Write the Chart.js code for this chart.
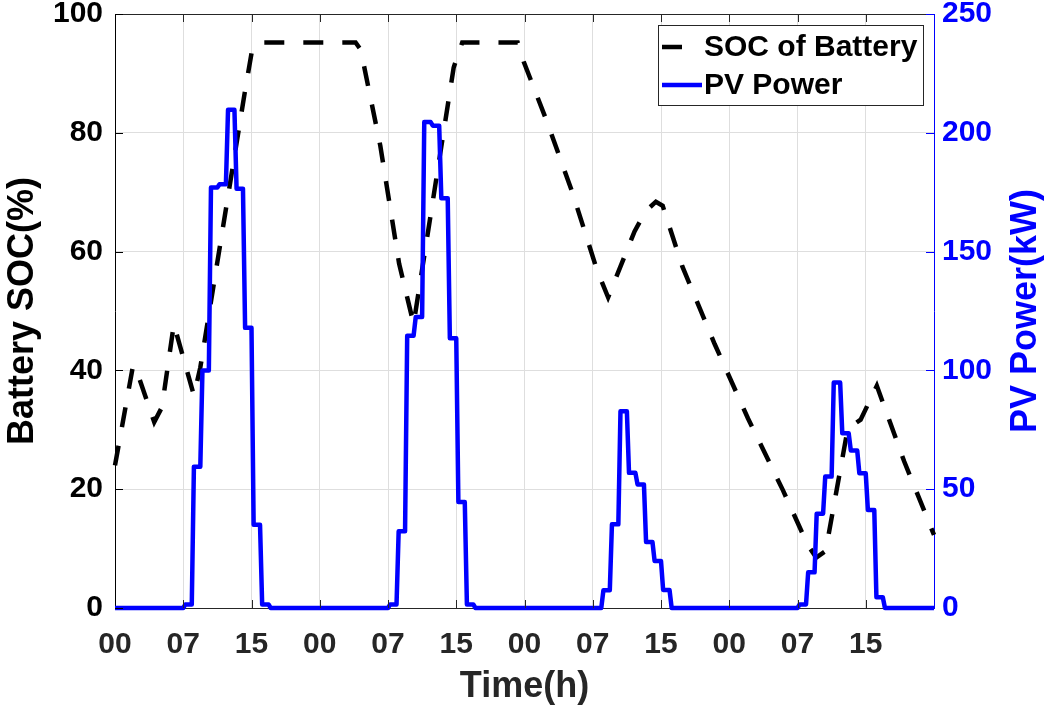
<!DOCTYPE html>
<html>
<head>
<meta charset="utf-8">
<title>Battery SOC and PV power</title>
<script src="https://cdn.jsdelivr.net/npm/chart.js@4.4.1/dist/chart.umd.min.js"></script>
<style>
  html, body { margin: 0; padding: 0; background: #fff; }
  #wrap { width: 1051px; height: 710px; position: relative; }
</style>
</head>
<body>
<div id="wrap"><canvas id="chart"></canvas></div>
<script>
// PV output in kW, one value per hour (hour 0 .. 95)
const pvPower = [
  0, 0, 0, 0, 0, 0, 0, 0, 1.5, 59.5, 100, 177, 178.3, 209.7, 176.5, 117.9,
  35, 1.5, 0, 0, 0, 0, 0, 0, 0, 0, 0, 0, 0, 0, 0, 0,
  1.5, 32.3, 114.6, 122.5, 204.5, 203, 172.5, 113.5, 44.6, 1.5, 0, 0, 0, 0, 0, 0,
  0, 0, 0, 0, 0, 0, 0, 0, 0, 7.5, 35.2, 82.8, 56.9, 52, 27.8, 19.8,
  7.6, 0, 0, 0, 0, 0, 0, 0, 0, 0, 0, 0, 0, 0, 0, 0,
  1.5, 15, 39.7, 55.3, 94.9, 73.5, 66.3, 56.7, 41.2, 4.5, 0, 0, 0, 0, 0, 0
];

// battery SOC (%) at the corners of the curve
const socHours = [
  0, 2.1, 2.4, 4.6, 5.5, 6.9, 9.25, 10, 15.2, 16.1, 17,
  28.2, 28.8, 31.1, 33.3, 34.3, 35, 39.7, 40.7,
  47.2, 47.9, 50.6, 53.6, 56.5, 57.8, 60.9, 62.2, 63.4, 64.2,
  66.5, 70.3, 74.2, 78.3, 81.2, 82.2, 83.3, 85.8, 86.3, 87.4, 89.3, 92.5, 96
];
const socValues = [
  24, 40.7, 40.5, 31.3, 33.8, 47.8, 35.8, 40.5, 86.7, 94.2, 95.2,
  95.2, 94, 77.8, 58, 52, 47.8, 91, 95.2,
  95.2, 92, 82, 70, 56.9, 52.3, 63.4, 66.8, 68.4, 67.7,
  57.5, 44.4, 31.9, 19.8, 10.6, 8.5, 9.6, 29.5, 30.6, 31.7, 37.4, 24.7, 12.3
];

const xTickLabels = ['00', '07', '15', '00', '07', '15', '00', '07', '15', '00', '07', '15'];
const legendLabels = ['SOC of Battery', 'PV Power'];

const pvPoints = [{x: 0, y: pvPower[0]}];
pvPower.forEach((v, h) => {
  pvPoints.push({x: h + 0.25, y: v});
  pvPoints.push({x: h + 1, y: v});
});
const socPoints = socHours.map((h, i) => ({x: h, y: socValues[i]}));

const FONT = 'Liberation Sans, Arial, Helvetica, sans-serif';
const DARK = '#262626';
const BLUE = '#0000ff';
const GRID = '#dedede';
const LINE_W = 4.5;

// top border, inward tick marks, boxed legend and the right-hand title
const framePlugin = {
  id: 'frame',
  afterDraw(chart) {
    const {ctx, chartArea: a, scales} = chart;
    const tick = 8;
    ctx.save();
    ctx.lineWidth = 1;

    ctx.strokeStyle = DARK;
    ctx.beginPath();
    ctx.moveTo(a.left, a.top + 0.5);
    ctx.lineTo(a.right, a.top + 0.5);
    scales.x.ticks.forEach(t => {
      if (t.value <= 0 || t.value >= 96) return;
      const px = Math.round(scales.x.getPixelForValue(t.value)) + 0.5;
      ctx.moveTo(px, a.bottom);
      ctx.lineTo(px, a.bottom - tick);
      ctx.moveTo(px, a.top);
      ctx.lineTo(px, a.top + tick);
    });
    ctx.stroke();

    ctx.strokeStyle = '#000';
    ctx.beginPath();
    scales.y.ticks.forEach(t => {
      const py = Math.round(scales.y.getPixelForValue(t.value)) + 0.5;
      ctx.moveTo(a.left, py);
      ctx.lineTo(a.left + tick, py);
    });
    ctx.stroke();

    ctx.strokeStyle = BLUE;
    ctx.beginPath();
    scales.y1.ticks.forEach(t => {
      const py = Math.round(scales.y1.getPixelForValue(t.value)) + 0.5;
      ctx.moveTo(a.right, py);
      ctx.lineTo(a.right - tick, py);
    });
    ctx.stroke();

    // legend
    const lx = a.right - 276, ly = a.top + 11, lw = 265, lh = 80;
    ctx.fillStyle = '#fff';
    ctx.fillRect(lx, ly, lw, lh);
    ctx.strokeStyle = DARK;
    ctx.strokeRect(lx + 0.5, ly + 0.5, lw, lh);
    const rows = [
      {y: ly + 22, ds: chart.data.datasets[1], dash: [20, 40]},
      {y: ly + 60, ds: chart.data.datasets[0], dash: []}
    ];
    ctx.font = 'bold 30px ' + FONT;
    ctx.textBaseline = 'middle';
    ctx.textAlign = 'left';
    rows.forEach((r, i) => {
      ctx.strokeStyle = r.ds.borderColor;
      ctx.lineWidth = LINE_W;
      ctx.setLineDash(r.dash);
      ctx.beginPath();
      ctx.moveTo(lx + 4, r.y);
      ctx.lineTo(lx + 44, r.y);
      ctx.stroke();
      ctx.setLineDash([]);
      ctx.fillStyle = '#000';
      ctx.fillText(legendLabels[i], lx + 46, r.y + 1);
    });

    // right axis title, read bottom to top like the left one
    ctx.translate(a.right + 92, (a.top + a.bottom) / 2);
    ctx.rotate(-Math.PI / 2);
    ctx.font = 'bold 36px ' + FONT;
    ctx.fillStyle = BLUE;
    ctx.textAlign = 'center';
    ctx.textBaseline = 'middle';
    ctx.fillText('PV Power(kW)', 0, 0);
    ctx.restore();
  }
};

// keep the plot box at fixed pixels: no extra room for half-labels
const fixBox = size => s => {
  if (s.isHorizontal()) {
    s.height = size;
    s.paddingLeft = 0;
    s.paddingRight = 0;
  } else {
    s.width = size;
    s.paddingTop = 0;
    s.paddingBottom = 0;
  }
};

new Chart(document.getElementById('chart'), {
  type: 'line',
  data: {
    datasets: [
      {
        label: 'PV Power',
        data: pvPoints,
        yAxisID: 'y1',
        borderColor: BLUE,
        borderWidth: LINE_W,
        borderJoinStyle: 'round',
        pointRadius: 0,
        tension: 0,
        clip: 6,
        order: 0
      },
      {
        label: 'SOC of Battery',
        data: socPoints,
        yAxisID: 'y',
        borderColor: '#000',
        borderWidth: LINE_W,
        borderDash: [20, 19],
        pointRadius: 0,
        tension: 0,
        clip: 6,
        order: 1
      }
    ]
  },
  options: {
    responsive: true,
    maintainAspectRatio: false,
    animation: false,
    layout: { padding: { top: 14, left: 0, right: 0, bottom: 0 } },
    plugins: {
      legend: { display: false },
      tooltip: { enabled: false }
    },
    scales: {
      x: {
        type: 'linear',
        min: 0,
        max: 96,
        afterFit: fixBox(102),
        ticks: {
          stepSize: 8,
          autoSkip: false,
          maxRotation: 0,
          padding: 19,
          color: DARK,
          font: { family: FONT, size: 30, weight: 'bold' },
          callback: v => xTickLabels[v / 8] ?? ''
        },
        grid: { color: GRID, lineWidth: 1, drawTicks: false },
        border: { color: DARK, width: 1 },
        title: {
          display: true,
          text: 'Time(h)',
          color: DARK,
          font: { family: FONT, size: 36, weight: 'bold' },
          padding: { top: 0, bottom: 1 }
        }
      },
      y: {
        position: 'left',
        min: 0,
        max: 100,
        afterFit: fixBox(115),
        ticks: {
          stepSize: 20,
          padding: 12,
          color: '#000',
          font: { family: FONT, size: 30, weight: 'bold' }
        },
        grid: { color: GRID, lineWidth: 1, drawTicks: false },
        border: { color: '#000', width: 1 },
        title: {
          display: true,
          text: 'Battery SOC(%)',
          color: '#000',
          font: { family: FONT, size: 36, weight: 'bold' },
          padding: { top: 1, bottom: 0 }
        }
      },
      y1: {
        position: 'right',
        min: 0,
        max: 250,
        afterFit: fixBox(117),
        ticks: {
          stepSize: 50,
          padding: 8,
          color: BLUE,
          font: { family: FONT, size: 30, weight: 'bold' }
        },
        grid: { drawOnChartArea: false, drawTicks: false },
        border: { color: BLUE, width: 1 }
      }
    }
  },
  plugins: [framePlugin]
});
</script>
</body>
</html>
